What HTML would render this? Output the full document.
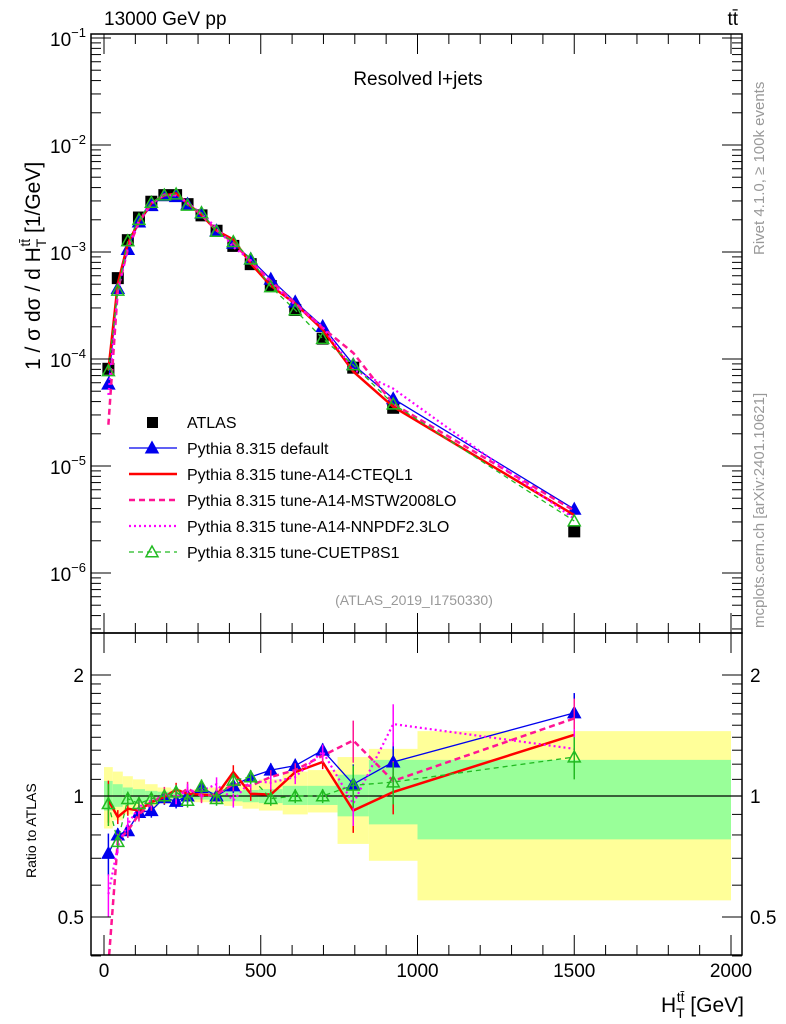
<!DOCTYPE html>
<html><head><meta charset="utf-8"><style>
body{margin:0;background:#fff;}
svg{display:block;font-family:"Liberation Sans",sans-serif;}
</style></head><body>
<svg id="c" width="786" height="1024" viewBox="0 0 786 1024" xmlns="http://www.w3.org/2000/svg"></svg>
<script>
const binEdges=[0,28,60,92,131,171,214,246,287,335,383,442,494,570,650,745,845,1000,2000];
const atlas=[8.1e-5,5.7e-4,1.29e-3,2.1e-3,2.95e-3,3.4e-3,3.4e-3,2.8e-3,2.2e-3,1.58e-3,1.14e-3,7.7e-4,4.8e-4,2.87e-4,1.55e-4,8.3e-5,3.5e-5,2.45e-6];
const yellowUp=[1.18,1.15,1.12,1.10,1.07,1.05,1.04,1.03,1.04,1.05,1.06,1.07,1.10,1.15,1.16,1.25,1.31,1.45];
const yellowDn=[0.83,0.87,0.90,0.92,0.94,0.96,0.97,0.975,0.965,0.955,0.945,0.93,0.92,0.90,0.91,0.76,0.69,0.55];
const greenUp=[1.09,1.07,1.05,1.04,1.03,1.025,1.02,1.015,1.02,1.025,1.03,1.035,1.04,1.06,1.06,1.13,1.23,1.23];
const greenDn=[0.92,0.94,0.95,0.96,0.97,0.98,0.985,0.985,0.98,0.975,0.97,0.965,0.96,0.95,0.95,0.89,0.85,0.78];
const rDefault=[0.72,0.80,0.82,0.91,0.92,0.99,0.97,1.0,1.05,1.0,1.06,1.115,1.16,1.19,1.30,1.07,1.215,1.61];
const rCTEQ=[0.975,0.887,0.93,0.92,0.966,0.994,1.037,1.013,1.008,1.004,1.147,1.013,1.008,1.147,1.215,0.92,1.023,1.42];
const rMSTW=[0.30,0.775,0.82,0.90,0.957,1.013,0.994,1.043,1.0,1.01,1.07,1.06,1.115,1.16,1.26,1.375,1.09,1.56];
const rNNPDF=[0.57,0.75,0.85,0.94,0.975,1.0,0.994,1.03,1.03,1.07,0.975,1.09,1.08,1.115,1.29,0.957,1.51,1.31];
const rCUET=[0.957,0.77,0.985,0.957,0.985,1.0,1.023,0.975,1.057,0.985,1.094,1.115,0.985,1.0,1.0,1.063,1.083,1.25];
const mainTicks=["-1","-2","-3","-4","-5","-6"];
const ratioTicks=["0.5","1","2"];
const xTicks=["0","500","1000","1500","2000"];

const NS="http://www.w3.org/2000/svg";
const svg=document.getElementById('c');
function el(tag,attrs,parent){const e=document.createElementNS(NS,tag);for(const k in attrs)e.setAttribute(k,attrs[k]);(parent||svg).appendChild(e);return e;}
const L=91,R=742,T=34,MB=633,RB=955;
const X=v=>104+v*0.3135;
const Ym=v=>38-(Math.log10(v)+1)*107;
const Yr=v=>796-Math.log2(v)*121;
const centers=binEdges.slice(0,-1).map((e,i)=>(e+binEdges[i+1])/2);

// bands
const gb=el('g',{});


for(let i=0;i<centers.length;i++){
  const r1=el('rect',{x:X(binEdges[i]),width:X(binEdges[i+1])-X(binEdges[i]),y:Yr(yellowUp[i]),height:Yr(yellowDn[i])-Yr(yellowUp[i]),fill:'#ffff99'},gb);
  
  
  const r2=el('rect',{x:X(binEdges[i]),width:X(binEdges[i+1])-X(binEdges[i]),y:Yr(greenUp[i]),height:Yr(greenDn[i])-Yr(greenUp[i]),fill:'#99ff99'},gb);
  
  
}
el('line',{x1:L,x2:R,y1:Yr(1),y2:Yr(1),stroke:'#000','stroke-width':1.2});

const series=[
 {name:'default',r:rDefault,color:'#0000ee',w:1.3,dash:'',marker:'tri'},
 {name:'cteql1',r:rCTEQ,color:'#ff0000',w:2.5,dash:'',marker:''},
 {name:'mstw2008lo',r:rMSTW,color:'#ff1493',w:2.5,dash:'6,4',marker:''},
 {name:'nnpdf23lo',r:rNNPDF,color:'#ff00ff',w:2.2,dash:'2,3',marker:''},
 {name:'cuetp8s1',r:rCUET,color:'#22bb22',w:1.3,dash:'5,4',marker:'otri'}
];
function tri(g,x,y,c,open){const s=6;const p=el('polygon',{points:`${x},${y-s} ${x-s},${y+s*0.8} ${x+s},${y+s*0.8}`,fill:open?'none':c,stroke:c,'stroke-width':1.5},g);}
function clipR(v){return Math.min(Math.max(v,0.38),2.6);}
el('clipPath',{id:'cm'}).appendChild(Object.assign(document.createElementNS(NS,'rect'),{}));
const cm=svg.querySelector('#cm rect');cm.setAttribute('x',L);cm.setAttribute('y',T);cm.setAttribute('width',R-L);cm.setAttribute('height',MB-T);
el('clipPath',{id:'cr'});
const cr=el('rect',{x:L,y:MB,width:R-L,height:RB-MB},svg.querySelector('#cr'));

// ATLAS data
const ga=el('g',{});


atlas.forEach((v,i)=>{const r=el('rect',{x:X(centers[i])-6,y:Ym(v)-6,width:12,height:12,fill:'#000'},ga);
 
 });

series.forEach(s=>{
  const gm=el('g',{'clip-path':'url(#cm)'});
  
  
  const pm=centers.map((c,i)=>X(c)+','+Ym(atlas[i]*s.r[i])).join(' ');
  el('polyline',{points:pm,fill:'none',stroke:s.color,'stroke-width':s.w,'stroke-dasharray':s.dash},gm);
  const gr=el('g',{'clip-path':'url(#cr)'});
  
  
  const pr=centers.map((c,i)=>X(c)+','+Yr(clipR(s.r[i]))).join(' ');
  el('polyline',{points:pr,fill:'none',stroke:s.color,'stroke-width':s.w,'stroke-dasharray':s.dash},gr);
  centers.forEach((c,i)=>{const e=0.04+0.08*(i==0||i>=15?1:0);
    el('line',{x1:X(c),x2:X(c),y1:Yr(clipR(s.r[i]*(1+e))),y2:Yr(clipR(s.r[i]*(1-e))),stroke:s.color,'stroke-width':1.5},gr);
    if(s.marker){tri(gm,X(c),Ym(atlas[i]*s.r[i]),s.color,s.marker=='otri');tri(gr,X(c),Yr(clipR(s.r[i])),s.color,s.marker=='otri');}
  });
});

// frames
el('rect',{x:L,y:T,width:R-L,height:MB-T,fill:'none',stroke:'#000','stroke-width':1.5});
el('rect',{x:L,y:MB,width:R-L,height:RB-MB,fill:'none',stroke:'#000','stroke-width':1.5});
// main y ticks
for(let d=-1;d>=-7;d--){for(let m=1;m<10;m++){const v=m*Math.pow(10,d);const y=Ym(v);if(y<T||y>MB)continue;const len=m==1?20:10;
 el('line',{x1:L,x2:L+len,y1:y,y2:y,stroke:'#000'});el('line',{x1:R,x2:R-len,y1:y,y2:y,stroke:'#000'});}}
mainTicks.forEach(t=>{const y=Ym(Math.pow(10,+t));const tx=el('text',{x:86,y:y+8,'text-anchor':'end','font-size':19});tx.innerHTML=`10<tspan dy="-9" font-size="13">${t.replace('-','−')}</tspan>`;
 });
// ratio ticks
[0.4,0.5,0.6,0.7,0.8,0.9,1,1.1,1.2,1.3,1.4,1.5,1.6,1.7,1.8,1.9,2].forEach(v=>{const y=Yr(v);const len=(v==0.5||v==1||v==2)?20:10;
 el('line',{x1:L,x2:L+len,y1:y,y2:y,stroke:'#000'});el('line',{x1:R,x2:R-len,y1:y,y2:y,stroke:'#000'});});
ratioTicks.forEach(t=>{const y=Yr(+t);
 const a=el('text',{x:84,y:y+7,'text-anchor':'end','font-size':19});a.textContent=t;
 const b=el('text',{x:750,y:y+7,'font-size':19});b.textContent=t;});
// x ticks
for(let v=0;v<=2000;v+=100){const x=X(v);const len=v%500==0?20:10;
 [[T,1],[MB,-1],[MB,1],[RB,-1]].forEach(([y,s])=>el('line',{x1:x,x2:x,y1:y,y2:y+s*len,stroke:'#000'}));}
xTicks.forEach(t=>{const tx=el('text',{x:X(+t),y:977,'text-anchor':'middle','font-size':19});tx.textContent=t;});

// legend
const leg=[['ATLAS','#000','','sq',1],['Pythia 8.315 default','#0000ee','','tri',1.3],['Pythia 8.315 tune-A14-CTEQL1','#ff0000','','',2.5],['Pythia 8.315 tune-A14-MSTW2008LO','#ff1493','6,4','',2.5],['Pythia 8.315 tune-A14-NNPDF2.3LO','#ff00ff','2,3','',2.2],['Pythia 8.315 tune-CUETP8S1','#22bb22','5,4','otri',1.3]];
const lg=el('g',{});
leg.forEach((e,i)=>{const y=422+i*26;const g=el('g',{},lg);
 
 if(e[3]=='sq')el('rect',{x:147,y:y-5,width:11,height:11,fill:'#000'},g);
 else el('line',{x1:129,x2:177,y1:y,y2:y,stroke:e[1],'stroke-width':e[4],'stroke-dasharray':e[2]},g);
 if(e[3]=='tri'||e[3]=='otri')tri(g,152,y,e[1],e[3]=='otri');
 const t=el('text',{x:187,y:y+6,'font-size':16},g);t.textContent=e[0];});
</script>
<svg width="786" height="1024" style="position:absolute;left:0;top:0" xmlns="http://www.w3.org/2000/svg">
<text x="104" y="25" font-size="19" font-family="Liberation Sans">13000 GeV pp</text>
<text x="738" y="25" font-size="19" text-anchor="end" font-family="Liberation Sans">tt̄</text>
<text x="418" y="85" font-size="19" text-anchor="middle" font-family="Liberation Sans">Resolved l+jets</text>
<text x="414" y="605" font-size="14" fill="#999" text-anchor="middle" font-family="Liberation Sans">(ATLAS_2019_I1750330)</text>
<text transform="translate(40,370) rotate(-90)" font-size="21" font-family="Liberation Sans">1 / σ dσ / d H<tspan dy="6" font-size="14">T</tspan><tspan dy="-16" dx="-8" font-size="14">tt̄</tspan><tspan dy="10"> [1/GeV]</tspan></text>
<text transform="translate(36,878) rotate(-90)" font-size="14" font-family="Liberation Sans">Ratio to ATLAS</text>
<text x="744" y="1012" font-size="21" text-anchor="end" font-family="Liberation Sans">H<tspan dy="6" font-size="14">T</tspan><tspan dy="-16" dx="-8" font-size="14">tt̄</tspan><tspan dy="10"> [GeV]</tspan></text>
<text transform="translate(764,255) rotate(-90)" font-size="15" fill="#999" font-family="Liberation Sans">Rivet 4.1.0, ≥ 100k events</text>
<text transform="translate(764,628) rotate(-90)" font-size="15" fill="#999" font-family="Liberation Sans">mcplots.cern.ch [arXiv:2401.10621]</text>
</svg>
</body></html>
